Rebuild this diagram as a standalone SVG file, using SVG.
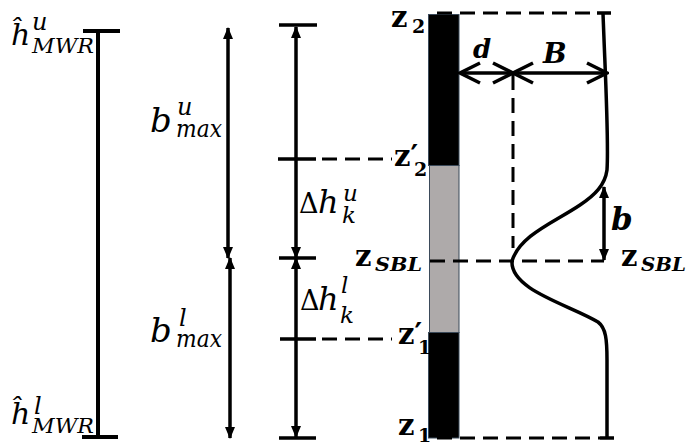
<svg xmlns="http://www.w3.org/2000/svg" width="686" height="444" viewBox="0 0 686 444">
<style>
.m{font-family:"DejaVu Serif",serif;font-style:italic;fill:#000}
.up{font-style:normal}
.bd{font-family:"DejaVu Serif",serif;font-weight:bold;fill:#000}
.bi{font-family:"DejaVu Serif",serif;font-weight:bold;font-style:italic;fill:#000}
.ln{stroke:#000;stroke-width:3.5;fill:none}
.thick{stroke:#000;stroke-width:4;fill:none}
.ds{stroke:#000;stroke-width:3;stroke-dasharray:15 8;fill:none}
.seg{stroke:#3b4a5a;stroke-width:1}
</style>
<defs>
<marker id="fa" viewBox="0 0 12 12" refX="11" refY="6" markerWidth="12" markerHeight="12" markerUnits="userSpaceOnUse" orient="auto-start-reverse">
<path d="M0,1 L12,6 L0,11 z" fill="#000"/>
</marker>
<marker id="oa" viewBox="0 0 24 24" refX="22" refY="12" markerWidth="24" markerHeight="24" markerUnits="userSpaceOnUse" orient="auto-start-reverse">
<path d="M2,2 L22,12 L2,22" fill="none" stroke="#000" stroke-width="3.5"/>
</marker>
</defs>
<rect width="686" height="444" fill="#fff"/>

<g id="column">
<rect class="seg" x="428.5" y="14.5" width="30.5" height="151" fill="#000"/>
<rect class="seg" x="429.5" y="165.5" width="29.5" height="167" fill="#aeaaaa"/>
<rect class="seg" x="428.5" y="332.5" width="30.5" height="105.5" fill="#000"/>
</g>

<g id="connectors">
<path class="thick" d="M98,31 L98,437 M83,31 L120,31 M82,437 L118,437"/>
<path class="ln" d="M228,28 L228,258" marker-start="url(#fa)" marker-end="url(#fa)"/>
<path class="ln" d="M230,258 L230,438" marker-start="url(#fa)" marker-end="url(#fa)"/>
<path class="ln" d="M279,25 L317,25 M278,159 L316,159 M279,258 L316,258 M280,339 L316,339 M279,438 L316,438"/>
<path class="ln" d="M296,27 L296,258" marker-start="url(#fa)" marker-end="url(#fa)"/>
<path class="ln" d="M296,258 L296,437" marker-start="url(#fa)" marker-end="url(#fa)"/>
<path class="ds" d="M322,159 L392,159"/>
<path class="ds" d="M322,339 L392,339"/>
<path class="ds" d="M437,13 L597,13"/>
<path class="ln" d="M597,13 L611,13"/>
<path class="ds" d="M430,261 L604,261"/>
<path class="ds" d="M437,438 L600,438"/>
<path class="ln" d="M600,438 L614,438"/>
<path class="ds" d="M513,75 L513,248"/>
<path class="ln" d="M460,73 L513,73" marker-start="url(#oa)" marker-end="url(#oa)"/>
<path class="ln" d="M513,73 L607,73" marker-start="url(#oa)" marker-end="url(#oa)"/>
<path class="ln" d="M604,187 L604,260" marker-start="url(#fa)" marker-end="url(#fa)"/>
<path class="ln" d="M603,13 C605,70 609,140 607,170 C605,185 595,195 580,205 C555,222 520,235 512,261 C510,290 570,305 598,322 C606,328 607,340 607,360 L607,438"/>
</g>

<g id="label-hMWRu">
<text class="m" font-size="30"><tspan x="11" y="45">ĥ</tspan><tspan x="32" y="30" font-size="24">u</tspan><tspan x="32" y="53" font-size="21" textLength="62" lengthAdjust="spacingAndGlyphs">MWR</tspan></text>
</g>
<g id="label-hMWRl">
<text class="m" font-size="30"><tspan x="11" y="424">ĥ</tspan><tspan x="34" y="414" font-size="24">l</tspan><tspan x="32" y="433" font-size="21" textLength="62" lengthAdjust="spacingAndGlyphs">MWR</tspan></text>
</g>
<g id="label-bmaxu">
<text class="m" font-size="34"><tspan x="150" y="132">b</tspan><tspan x="177" y="115" font-size="24">u</tspan><tspan x="176" y="137" font-size="24" textLength="46" lengthAdjust="spacingAndGlyphs">max</tspan></text>
</g>
<g id="label-bmaxl">
<text class="m" font-size="34"><tspan x="150" y="342">b</tspan><tspan x="179" y="326" font-size="24">l</tspan><tspan x="176" y="347" font-size="24" textLength="46" lengthAdjust="spacingAndGlyphs">max</tspan></text>
</g>
<g id="label-dhu">
<text class="m" font-size="32"><tspan class="up" x="299" y="213" font-size="27">Δ</tspan><tspan x="318" y="213">h</tspan><tspan x="343" y="201" font-size="23">u</tspan><tspan x="342" y="223" font-size="23">k</tspan></text>
</g>
<g id="label-dhl">
<text class="m" font-size="32"><tspan class="up" x="300" y="310" font-size="27">Δ</tspan><tspan x="318" y="310">h</tspan><tspan x="341" y="293" font-size="23">l</tspan><tspan x="340" y="323" font-size="23">k</tspan></text>
</g>
<g id="label-z2">
<text class="bd" font-size="29"><tspan x="391" y="27">z</tspan><tspan x="412" y="33" font-size="19">2</tspan></text>
</g>
<g id="label-z2p">
<text class="bd" font-size="29"><tspan x="394" y="166">z′</tspan><tspan x="414" y="176" font-size="19">2</tspan></text>
</g>
<g id="label-zSBL-left">
<text class="bd" font-size="29"><tspan x="355" y="266">z</tspan><tspan class="bi" x="375" y="271" font-size="19" textLength="47" lengthAdjust="spacingAndGlyphs">SBL</tspan></text>
</g>
<g id="label-z1p">
<text class="bd" font-size="29"><tspan x="398" y="344">z′</tspan><tspan x="418" y="354" font-size="19">1</tspan></text>
</g>
<g id="label-z1">
<text class="bd" font-size="29"><tspan x="398" y="435">z</tspan><tspan x="418" y="442" font-size="19">1</tspan></text>
</g>
<g id="label-zSBL-right">
<text class="bd" font-size="29"><tspan x="621" y="266">z</tspan><tspan class="bi" x="641" y="271" font-size="19" textLength="45" lengthAdjust="spacingAndGlyphs">SBL</tspan></text>
</g>
<g id="label-d"><text class="bi" x="473" y="58" font-size="26">d</text></g>
<g id="label-B"><text class="bi" x="543" y="63" font-size="28">B</text></g>
<g id="label-b"><text class="bi" x="611" y="230" font-size="31">b</text></g>
</svg>
